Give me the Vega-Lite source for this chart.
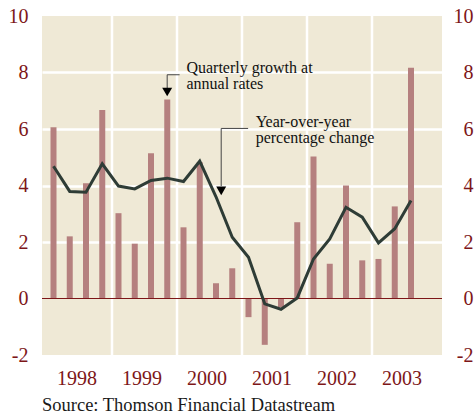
{
  "$schema": "https://vega.github.io/schema/vega-lite/v6.json",
  "autosize": {"type": "none"},
  "width": 400,
  "height": 339,
  "padding": {"left": 42, "top": 16, "right": 32, "bottom": 60},
  "background": "white",
  "view": {"fill": "#efe9d6", "stroke": null},
  "config": {"font": "Liberation Serif"},
  "title": {
    "text": "Source: Thomson Financial Datastream",
    "orient": "bottom",
    "anchor": "start",
    "frame": "group",
    "fontSize": 18.5,
    "fontWeight": "normal",
    "color": "#1a1a1a",
    "offset": 8
  },
  "datasets": {
    "gdp": [
      {"year": 1998, "q": 1, "growth": 6.06, "yoy": 4.68},
      {"year": 1998, "q": 2, "growth": 2.2, "yoy": 3.79},
      {"year": 1998, "q": 3, "growth": 4.08, "yoy": 3.76},
      {"year": 1998, "q": 4, "growth": 6.67, "yoy": 4.77},
      {"year": 1999, "q": 1, "growth": 3.02, "yoy": 3.98},
      {"year": 1999, "q": 2, "growth": 1.94, "yoy": 3.88},
      {"year": 1999, "q": 3, "growth": 5.14, "yoy": 4.18},
      {"year": 1999, "q": 4, "growth": 7.04, "yoy": 4.26},
      {"year": 2000, "q": 1, "growth": 2.52, "yoy": 4.14},
      {"year": 2000, "q": 2, "growth": 4.82, "yoy": 4.86},
      {"year": 2000, "q": 3, "growth": 0.54, "yoy": 3.6},
      {"year": 2000, "q": 4, "growth": 1.07, "yoy": 2.17},
      {"year": 2001, "q": 1, "growth": -0.66, "yoy": 1.46},
      {"year": 2001, "q": 2, "growth": -1.64, "yoy": -0.19},
      {"year": 2001, "q": 3, "growth": -0.3, "yoy": -0.38},
      {"year": 2001, "q": 4, "growth": 2.7, "yoy": 0.02},
      {"year": 2002, "q": 1, "growth": 5.03, "yoy": 1.4},
      {"year": 2002, "q": 2, "growth": 1.23, "yoy": 2.11},
      {"year": 2002, "q": 3, "growth": 4.0, "yoy": 3.23},
      {"year": 2002, "q": 4, "growth": 1.35, "yoy": 2.88},
      {"year": 2003, "q": 1, "growth": 1.4, "yoy": 1.97},
      {"year": 2003, "q": 2, "growth": 3.26, "yoy": 2.47},
      {"year": 2003, "q": 3, "growth": 8.17, "yoy": 3.47}
    ],
    "bounds": [{"g": 1999}, {"g": 2000}, {"g": 2001}, {"g": 2002}, {"g": 2003}],
    "segs": [
      {"x": 1999.849, "y": 7.92, "x2": 2000.04, "y2": 7.92},
      {"x": 1999.849, "y": 7.92, "x2": 1999.849, "y2": 7.45},
      {"x": 2000.68, "y": 6.02, "x2": 2001.094, "y2": 6.02},
      {"x": 2000.68, "y": 6.02, "x2": 2000.68, "y2": 3.98}
    ],
    "arrows": [{"x": 1999.849, "y": 7.31}, {"x": 2000.68, "y": 3.81}],
    "notes": [
      {"x": 2000.145, "y": 7.97, "label": "Quarterly growth at\nannual rates"},
      {"x": 2001.21, "y": 6.08, "label": "Year-over-year\npercentage change"}
    ]
  },
  "layer": [
    {
      "data": {"name": "bounds"},
      "mark": {"type": "rule", "color": "white", "strokeWidth": 2.5},
      "encoding": {
        "x": {
          "field": "g",
          "type": "quantitative",
          "scale": {"domain": [1998, 2004], "nice": false, "zero": false},
          "axis": {
            "values": [1998.455, 1999.455, 2000.455, 2001.455, 2002.455, 2003.455],
            "labelExpr": "floor(datum.value)",
            "grid": false,
            "ticks": false,
            "domain": false,
            "title": null,
            "labelFontSize": 20,
            "labelColor": "#7d1618",
            "labelPadding": 13,
            "labelFlush": false
          }
        }
      }
    },
    {
      "data": {"name": "gdp"},
      "transform": [{"calculate": "datum.year + (datum.q - 1) / 4 + 0.1", "as": "t"}],
      "mark": {"type": "bar", "color": "#b5807f", "size": 6},
      "encoding": {
        "x": {"field": "t", "type": "quantitative"},
        "y": {
          "field": "growth",
          "type": "quantitative",
          "scale": {"domain": [-2, 10], "nice": false},
          "axis": {
            "orient": "left",
            "values": [-2, 0, 2, 4, 6, 8, 10],
            "labelExpr": "'' + datum.value",
            "title": null,
            "ticks": false,
            "domain": false,
            "grid": true,
            "gridColor": {"condition": {"test": "datum.value > 0 && datum.value < 10", "value": "white"}, "value": "transparent"},
            "gridWidth": 2.5,
            "labelFontSize": 20,
            "labelColor": "#7d1618",
            "labelPadding": 14
          }
        }
      }
    },
    {
      "data": {"values": [{"z": 0}]},
      "mark": {"type": "rule", "color": "#7d1618", "strokeWidth": 1.2},
      "encoding": {"y": {"field": "z", "type": "quantitative", "axis": null}}
    },
    {
      "data": {"name": "gdp"},
      "transform": [{"calculate": "datum.year + (datum.q - 1) / 4 + 0.1", "as": "t"}],
      "mark": {"type": "line", "color": "#2e3c36", "strokeWidth": 3, "strokeJoin": "miter"},
      "encoding": {
        "x": {"field": "t", "type": "quantitative"},
        "y": {
          "field": "yoy",
          "type": "quantitative",
          "axis": {
            "orient": "right",
            "values": [-2, 0, 2, 4, 6, 8, 10],
            "labelExpr": "'' + datum.value",
            "title": null,
            "ticks": false,
            "domain": false,
            "grid": false,
            "labelFontSize": 20,
            "labelColor": "#7d1618",
            "labelAlign": "right",
            "labelPadding": 31
          }
        }
      }
    },
    {
      "data": {"name": "segs"},
      "mark": {"type": "rule", "color": "#444", "strokeWidth": 1},
      "encoding": {
        "x": {"field": "x", "type": "quantitative"},
        "x2": {"field": "x2"},
        "y": {"field": "y", "type": "quantitative", "axis": null},
        "y2": {"field": "y2"}
      }
    },
    {
      "data": {"name": "arrows"},
      "mark": {"type": "point", "shape": "triangle-down", "filled": true, "color": "black", "size": 100, "opacity": 1},
      "encoding": {
        "x": {"field": "x", "type": "quantitative"},
        "y": {"field": "y", "type": "quantitative", "axis": null}
      }
    },
    {
      "data": {"name": "notes"},
      "mark": {"type": "text", "align": "left", "baseline": "alphabetic", "fontSize": 16, "lineHeight": 16, "color": "#111", "lineBreak": "\n"},
      "encoding": {
        "x": {"field": "x", "type": "quantitative"},
        "y": {"field": "y", "type": "quantitative", "axis": null},
        "text": {"field": "label"}
      }
    }
  ],
  "resolve": {"axis": {"y": "independent"}}
}
